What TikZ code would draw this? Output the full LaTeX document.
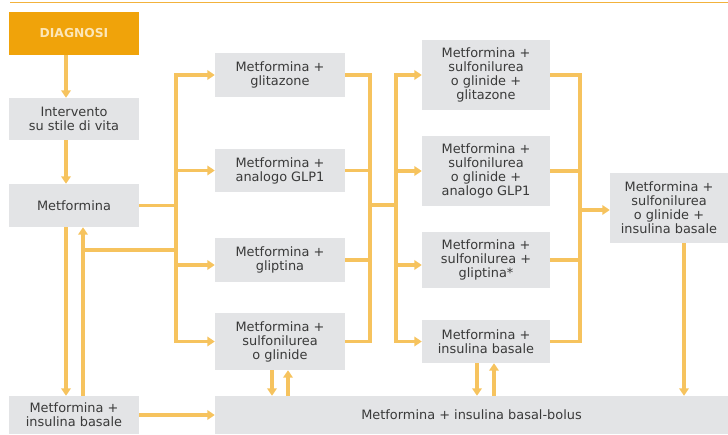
\documentclass[tikz,border=0pt]{standalone}
\usepackage{fontspec}
\setmainfont{DejaVu Sans}
\usetikzlibrary{arrows.meta}
\pgfdeclarelayer{bg}
\pgfsetlayers{bg,main}
\definecolor{arrc}{HTML}{F6C35E}
\definecolor{boxc}{HTML}{E3E4E6}
\definecolor{diagc}{HTML}{F0A30A}
\definecolor{diagt}{HTML}{FCE6B8}
\definecolor{txtc}{HTML}{3A3A3A}
\definecolor{topc}{HTML}{F2B23C}
\begin{document}
\begin{tikzpicture}[x=1pt,y=-1pt,
  box/.style={fill=boxc, text=txtc, align=center, inner sep=0pt,
    font=\fontsize{12.9}{14}\selectfont, minimum width=130pt},
  ln/.style={draw=arrc, line width=3.3pt, line cap=rect},
  arr/.style={ln, -{Triangle[length=7.5pt,width=9.5pt]}}]
\useasboundingbox (0,0) rectangle (728,434);
\draw[topc, line width=1pt] (10,2) -- (728,2);
% left column
\node[box, fill=diagc, text=diagt, minimum height=43pt,
  font=\fontsize{12.3}{14}\selectfont\bfseries] (diag) at (74,33.5) {DIAGNOSI};
\node[box, minimum height=42pt] (interv) at (74,119) {Intervento\\su stile di vita};
\node[box, minimum height=43pt] (m1) at (74,205.5) {Metformina};
\node[box, minimum height=38pt] (mib) at (74,415) {Metformina +\\insulina basale};
% second column
\node[box, minimum height=44pt] (g1) at (280,75) {Metformina +\\glitazone};
\node[box, minimum height=43pt] (g2) at (280,170.5) {Metformina +\\analogo GLP1};
\node[box, minimum height=44pt] (g3) at (280,260) {Metformina +\\gliptina};
\node[box, minimum height=57pt] (g4) at (280,341.5) {Metformina +\\sulfonilurea\\o glinide};
% third column
\node[box, minimum width=128pt, minimum height=70pt] (h1) at (486,75) {Metformina +\\sulfonilurea\\o glinide +\\glitazone};
\node[box, minimum width=128pt, minimum height=70pt] (h2) at (486,171) {Metformina +\\sulfonilurea\\o glinide +\\analogo GLP1};
\node[box, minimum width=128pt, minimum height=56pt] (h3) at (486,260) {Metformina +\\sulfonilurea +\\gliptina*};
\node[box, minimum width=128pt, minimum height=43pt] (h4) at (486,341.5) {Metformina +\\insulina basale};
% final
\node[box, minimum width=118pt, minimum height=70pt] (f) at (669,208) {Metformina +\\sulfonilurea\\o glinide +\\insulina basale};
\node[box, minimum width=513pt, minimum height=38pt] (bolus) at (471.5,415) {\raisebox{-2pt}{Metformina + insulina basal-bolus}};
% helper coordinates
\coordinate (xL) at (66,0);
\coordinate (xR) at (83,0);
\coordinate (b1) at (176,0);
\coordinate (b2) at (370,0);
\coordinate (b3) at (396,0);
\coordinate (b4) at (580,0);
\coordinate (g4d) at (272,0);
\coordinate (g4u) at (288,0);
\coordinate (h4d) at (477,0);
\coordinate (h4u) at (494,0);
\coordinate (fd) at (684,0);
\coordinate (y250) at (0,250);
\coordinate (y205) at (0,205);
\coordinate (g3in) at ([yshift=-5pt]g3.west);
\coordinate (h3in) at ([yshift=-5pt]h3.west);
\coordinate (fin) at ([yshift=-2pt]f.west);
\begin{pgfonlayer}{bg}
\draw[arr] (diag.south -| xL) -- (interv.north -| xL);
\draw[arr] (interv.south -| xL) -- (m1.north -| xL);
\draw[arr] (m1.south -| xL) -- (mib.north -| xL);
\draw[arr] (mib.north -| xR) -- (m1.south -| xR);
\draw[ln] (xR |- y250) -- (b1 |- y250);
\draw[ln] (m1.east) -- (m1.east -| b1);
\draw[ln] (b1 |- g1.west) -- (b1 |- g4.west);
\draw[arr] (b1 |- g1.west) -- (g1.west);
\draw[arr] (b1 |- g2.west) -- (g2.west);
\draw[arr] (b1 |- g3in) -- (g3in);
\draw[arr] (b1 |- g4.west) -- (g4.west);
\draw[arr] (mib.east) -- (mib.east -| bolus.west);
\draw[arr] (g4.south -| g4d) -- (bolus.north -| g4d);
\draw[arr] (bolus.north -| g4u) -- (g4.south -| g4u);
\draw[ln] (g1.east) -- (g1.east -| b2);
\draw[ln] (g2.east) -- (g2.east -| b2);
\draw[ln] (g3.east) -- (g3.east -| b2);
\draw[ln] (g4.east) -- (g4.east -| b2);
\draw[ln] (b2 |- g1.east) -- (b2 |- g4.east);
\draw[ln] (b2 |- y205) -- (b3 |- y205);
\draw[ln] (b3 |- h1.west) -- (b3 |- h4.west);
\draw[arr] (b3 |- h1.west) -- (h1.west);
\draw[arr] (b3 |- h2.west) -- (h2.west);
\draw[arr] (b3 |- h3in) -- (h3in);
\draw[arr] (b3 |- h4.west) -- (h4.west);
\draw[ln] (h1.east) -- (h1.east -| b4);
\draw[ln] (h2.east) -- (h2.east -| b4);
\draw[ln] (h3.east) -- (h3.east -| b4);
\draw[ln] (h4.east) -- (h4.east -| b4);
\draw[ln] (b4 |- h1.east) -- (b4 |- h4.east);
\draw[arr] (b4 |- fin) -- (fin);
\draw[arr] (f.south -| fd) -- (bolus.north -| fd);
\draw[arr] (h4.south -| h4d) -- (bolus.north -| h4d);
\draw[arr] (bolus.north -| h4u) -- (h4.south -| h4u);
\end{pgfonlayer}
\end{tikzpicture}
\end{document}
